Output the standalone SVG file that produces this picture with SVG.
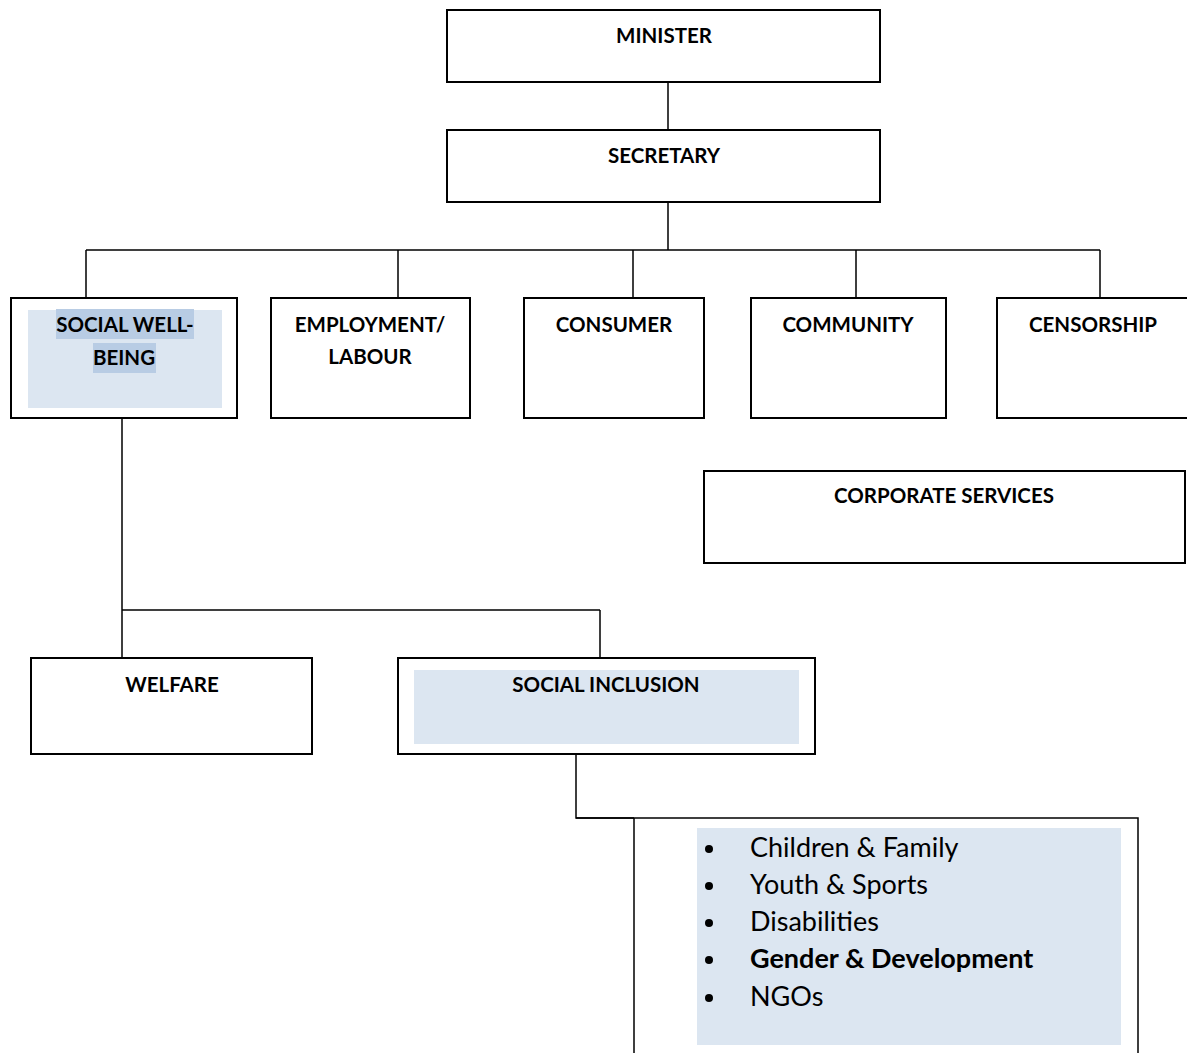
<svg xmlns="http://www.w3.org/2000/svg" width="1187" height="1053" viewBox="0 0 1187 1053">
<style>
.box{fill:#fff;stroke:#000;stroke-width:2}
.fill{fill:#DCE6F1}
.hl{fill:#B8CCE4}
.t{font-family:Lato,"Liberation Sans",sans-serif;font-weight:bold;font-size:20.5px;fill:#000;text-anchor:middle}
.li{font-family:Lato,"Liberation Sans",sans-serif;font-size:27px;fill:#000}
.conn{stroke:#000;stroke-width:1.5;fill:none}
</style>
<rect width="1187" height="1053" fill="#fff"/>
<g id="connectors">
<path class="conn" d="M668 82V130M668 202V250M86 250H1100M86 250V298M398 250V298M633 250V298M856 250V298M1100 250V298"/>
<path class="conn" d="M122 418V610M122 610H600M122 610V658M600 610V658"/>
<path class="conn" d="M576 754V818H634"/>
</g>
<g id="minister"><rect class="box" x="447" y="10" width="433" height="72"/><text class="t" x="664" y="43">MINISTER</text></g>
<g id="secretary"><rect class="box" x="447" y="130" width="433" height="72"/><text class="t" x="664" y="163">SECRETARY</text></g>
<g id="social-well-being"><rect class="box" x="11" y="298" width="226" height="120"/><rect class="fill" x="28" y="310" width="194" height="98"/><rect class="hl" x="56" y="309" width="138" height="30"/><rect class="hl" x="93" y="343" width="63" height="30"/><text class="t" x="125" y="332">SOCIAL WELL-</text><text class="t" x="124" y="365">BEING</text></g>
<g id="employment"><rect class="box" x="271" y="298" width="199" height="120"/><text class="t" x="370" y="332">EMPLOYMENT/</text><text class="t" x="370" y="364">LABOUR</text></g>
<g id="consumer"><rect class="box" x="524" y="298" width="180" height="120"/><text class="t" x="614" y="332">CONSUMER</text></g>
<g id="community"><rect class="box" x="751" y="298" width="195" height="120"/><text class="t" x="848" y="332">COMMUNITY</text></g>
<g id="censorship"><rect class="box" x="997" y="298" width="200" height="120"/><text class="t" x="1093" y="332">CENSORSHIP</text></g>
<g id="corporate"><rect class="box" x="704" y="471" width="481" height="92"/><text class="t" x="944" y="503">CORPORATE SERVICES</text></g>
<g id="welfare"><rect class="box" x="31" y="658" width="281" height="96"/><text class="t" x="172" y="692">WELFARE</text></g>
<g id="social-inclusion"><rect class="box" x="398" y="658" width="417" height="96"/><rect class="fill" x="414" y="670" width="385" height="74"/><text class="t" x="606" y="692">SOCIAL INCLUSION</text></g>
<g id="programmes">
<path class="conn" d="M576 818H1138V1053M634 818V1053"/>
<rect class="fill" x="697" y="828" width="424" height="217"/>
<g fill="#000"><circle cx="709" cy="849" r="4"/><circle cx="709" cy="886" r="4"/><circle cx="709" cy="923" r="4"/><circle cx="709" cy="960" r="4"/><circle cx="709" cy="998" r="4"/></g>
<text class="li" x="750" y="857">Children &amp; Family</text>
<text class="li" x="750" y="894">Youth &amp; Sports</text>
<text class="li" x="750" y="931">Disabilities</text>
<text class="li" x="750" y="968" font-weight="bold">Gender &amp; Development</text>
<text class="li" x="750" y="1006">NGOs</text>
</g>
</svg>
